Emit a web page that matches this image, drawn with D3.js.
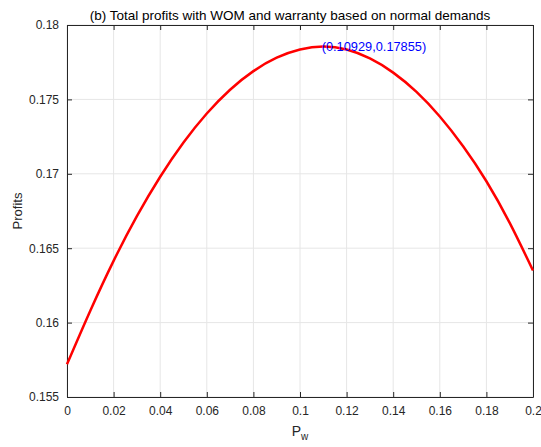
<!DOCTYPE html>
<html><head><meta charset="utf-8">
<script src="https://cdn.jsdelivr.net/npm/d3@7"></script>
<style>body{margin:0;background:#fff;} text{font-family:"Liberation Sans",Arial,sans-serif;}</style>
</head><body>
<svg id="c" width="541" height="447"></svg>
<script>
const pw = [0,0.01,0.02,0.03,0.04,0.05,0.06,0.07,0.08,0.09,0.10,0.11,0.12,0.13,0.14,0.15,0.16,0.17,0.18,0.19,0.20];
const profits = [0.1572,0.1608,0.16415,0.16715,0.1698,0.1721,0.17405,0.17565,0.1769,0.1778,0.17835,0.17855,0.17835,0.17775,0.1768,0.1755,0.17385,0.17185,0.1695,0.1667,0.1635];
const xTicks = [0,0.02,0.04,0.06,0.08,0.1,0.12,0.14,0.16,0.18,0.2];
const yTicks = [0.155,0.16,0.165,0.17,0.175,0.18];
const peak = [0.10929,0.17855];
const titleText = "(b) Total profits with WOM and warranty based on normal demands";

const svg = d3.select("#c");
const L=67,R=533,T=25,B=397;
const x = d3.scaleLinear().domain([0,0.2]).range([L,R]);
const y = d3.scaleLinear().domain([0.155,0.18]).range([B,T]);
const axisCol="#262626", gridCol="#e6e6e6";

// grid
svg.append("g").selectAll("line").data(xTicks).join("line")
  .attr("x1",d=>x(d)).attr("x2",d=>x(d)).attr("y1",T).attr("y2",B)
  .attr("stroke",gridCol).attr("stroke-width",1);
svg.append("g").selectAll("line").data(yTicks).join("line")
  .attr("y1",d=>y(d)).attr("y2",d=>y(d)).attr("x1",L).attr("x2",R)
  .attr("stroke",gridCol).attr("stroke-width",1);

const fmt = d=>String(+d.toFixed(3));
// axes
const xa = svg.append("g").attr("transform",`translate(0,${B})`)
  .call(d3.axisBottom(x).tickValues(xTicks).tickFormat(fmt).tickSizeInner(-5).tickSizeOuter(0).tickPadding(9));
const xt = svg.append("g").attr("transform",`translate(0,${T})`)
  .call(d3.axisTop(x).tickValues(xTicks).tickFormat("").tickSizeInner(-5).tickSizeOuter(0));
const ya = svg.append("g").attr("transform",`translate(${L},0)`)
  .call(d3.axisLeft(y).tickValues(yTicks).tickFormat(fmt).tickSizeInner(-5).tickSizeOuter(0).tickPadding(8));
const yr = svg.append("g").attr("transform",`translate(${R},0)`)
  .call(d3.axisRight(y).tickValues(yTicks).tickFormat("").tickSizeInner(-5).tickSizeOuter(0));
[xa,xt,ya,yr].forEach(g=>{
  g.selectAll("path").attr("stroke",axisCol).attr("stroke-width",1);
  g.selectAll("line").attr("stroke",axisCol);
  g.selectAll("text").attr("fill",axisCol).style("font-size","12px").style("font-family","Liberation Sans, Arial, sans-serif");
});

// line
const line = d3.line().x((d,i)=>x(pw[i])).y(d=>y(d)).curve(d3.curveNatural);
svg.append("path").datum(profits).attr("d",line)
  .attr("fill","none").attr("stroke","#ff0000").attr("stroke-width",2.5);

// annotation
svg.append("text").attr("x",x(peak[0])).attr("y",y(peak[1])).attr("dy","0.35em")
  .attr("fill","#0000ff").style("font-size","12.8px")
  .text(`(${peak[0]},${peak[1]})`);

// title
svg.append("text").attr("x",290).attr("y",20).attr("text-anchor","middle")
  .attr("fill","#000").style("font-size","13.5px").text(titleText);

// y label
svg.append("text").attr("transform",`translate(22,${(T+B)/2}) rotate(-90)`)
  .attr("text-anchor","middle").attr("fill",axisCol).style("font-size","13px").text("Profits");

// x label
const xl = svg.append("text").attr("x",(L+R)/2).attr("y",436).attr("text-anchor","middle")
  .attr("fill",axisCol).style("font-size","14px");
xl.append("tspan").text("P");
xl.append("tspan").attr("dy",4).style("font-size","10px").text("w");
</script>
</body></html>
